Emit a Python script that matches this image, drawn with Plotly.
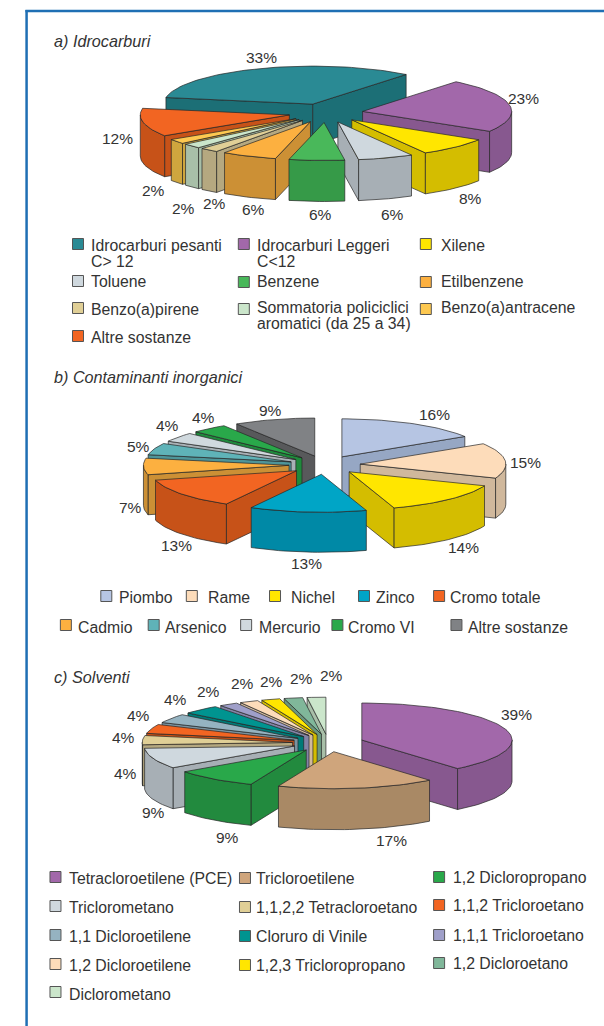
import math
import plotly.graph_objects as go

# ---- data ----
a_names = ["Idrocarburi pesanti<br>C> 12", "Idrocarburi Leggeri<br>C<12", "Xilene", "Toluene", "Benzene", "Etilbenzene",
           "Benzo(a)pirene", "Sommatoria policiclici<br>aromatici (da 25 a 34)", "Benzo(a)antracene", "Altre sostanze"]
a_values = [33, 23, 8, 6, 6, 6, 2, 2, 2, 12]
a_top = ["#2a8a94", "#a268aa", "#ffe600", "#cfd8de", "#49b85a", "#fcb040", "#e0cf96", "#cbe6cb", "#fdc850", "#f26522"]
a_side = ["#1c6f76", "#87588f", "#d4bd00", "#a7afb5", "#369a48", "#cc9035", "#b5a880", "#a8bfa8", "#cfa63e", "#c75218"]

b_names = ["Piombo", "Rame", "Nichel", "Zinco", "Cromo totale", "Cadmio", "Arsenico", "Mercurio", "Cromo VI", "Altre sostanze"]
b_values = [16, 15, 14, 13, 13, 7, 5, 4, 4, 9]
b_top = ["#b6c5e3", "#fddcba", "#ffe600", "#00a5c6", "#f26522", "#fcb040", "#5fb3b8", "#d0d9de", "#29a84a", "#808285"]
b_side = ["#96a7c4", "#d0b89c", "#d4bd00", "#0089a6", "#c75218", "#cc9035", "#4e9599", "#a9b1b6", "#1f8a3c", "#58595b"]

c_names = ["Tetracloroetilene (PCE)", "Tricloroetilene", "1,2 Dicloropropano", "Triclorometano", "1,1,2,2 Tetracloroetano",
           "1,1,2 Tricloroetano", "1,1 Dicloroetilene", "Cloruro di Vinile", "1,1,1 Tricloroetano", "1,2 Dicloroetilene",
           "1,2,3 Tricloropropano", "1,2 Dicloroetano", "Diclorometano"]
c_values = [39, 17, 9, 9, 4, 4, 4, 4, 2, 2, 2, 2, 2]
c_top = ["#a268aa", "#cfa57c", "#29a84a", "#cfd8de", "#e0cf96", "#f26522", "#95b3c1", "#009490", "#9f9fc9", "#fddcba",
         "#ffe600", "#80b79a", "#cbe6cb"]
c_side = ["#87588f", "#a98965", "#228a3e", "#a7afb5", "#b5a880", "#c75218", "#7a93a0", "#007a77", "#8383a6", "#d0b89c",
          "#d4bd00", "#6a977e", "#a8bfa8"]

# ---- layout of the three panels ----
PIES = [
    dict(values=a_values, top=a_top, side=a_side, cx=282, cy=113, rx=129, ry=38, depth=41, explode=.25, start=170),
    dict(values=b_values, top=b_top, side=b_side, cx=281, cy=465, rx=126, ry=38, depth=40, explode=.245, start=90),
    dict(values=c_values, top=c_top, side=c_side, cx=284, cy=743, rx=130, ry=37, depth=41, explode=.238, start=90),
]
a_label_xy = [(226, 57), (453, 98), (407, 198), (340, 214), (277, 214), (219, 209), (186, 203), (159, 208), (133, 190), (102, 138)]
b_label_xy = [(376, 414), (455, 462), (401, 547), (265, 563), (153, 545), (113, 507), (120, 446), (145, 425), (176, 417), (234, 410)]
c_label_xy = [(447, 714), (339, 840), (197, 837), (133, 812), (109, 773), (107, 737), (120, 715), (152, 699), (180, 691),
              (210, 683), (235, 681), (261, 678), (287, 675)]
# swatch x, swatch y, text x, text y of the first line
a_legend = [(67.5, 244, 79, 245), (211, 244, 223, 245), (368.5, 244, 382, 245), (67.5, 281, 79, 281), (211, 282, 223, 281),
            (368.5, 282, 382, 281), (67.5, 308, 79, 309), (211, 309, 223, 307), (368.5, 309, 382, 307), (67.5, 336, 79, 337)]
b_legend = [(92, 596, 103, 597), (166, 596, 180, 597), (238, 596, 252, 597), (315, 596, 326, 597), (380, 596, 390, 597),
            (57, 625, 68, 627), (133, 625, 143, 627), (213, 625, 224, 627), (292, 625, 301, 627), (395, 625, 405, 627)]
c_legend = [(48, 877, 60, 878), (212, 878, 222, 878), (380, 877, 392, 877), (48, 906, 60, 907), (212, 907, 222, 907),
            (380, 905, 392, 905), (48, 935, 60, 936), (212, 936, 222, 936), (380, 935, 392, 935), (48, 964, 60, 965),
            (212, 965, 222, 965), (380, 963, 392, 963), (48, 992, 60, 994)]
titles = [("a) Idrocarburi", 47, 41), ("b) Contaminanti inorganici", 47, 377), ("c) Solventi", 47, 677)]

FONT = "Liberation Sans"
INK = "#333333"
EDGE = "#262626"
X_SPAN = 522.7   # horizontal extent of the drawing units across the page

fig = go.Figure()


def face(xs, ys, color):
    fig.add_trace(go.Scatter(x=xs, y=ys, mode="lines", fill="toself", fillcolor=color,
                             line=dict(color=EDGE, width=0.7), hoverinfo="skip", showlegend=False))


def draw_pie(p):
    cx, cy, rx, ry, d, e = p["cx"], p["cy"], p["rx"], p["ry"], p["depth"], p["explode"]
    total = sum(p["values"])
    t = p["start"]
    slices = []
    for v, top, side in zip(p["values"], p["top"], p["side"]):
        sweep = 360 * v / total
        slices.append((t, t - sweep, top, side))
        t -= sweep

    def pt(ax, ay, ang):
        r = math.radians(ang)
        return ax + rx * math.cos(r), ay - ry * math.sin(r)

    def arc(ax, ay, t0, t1):
        n = max(2, int(abs(t0 - t1) / 2) + 1)
        return [pt(ax, ay, t0 + (t1 - t0) * i / n) for i in range(n + 1)]

    # paint from back to front
    for ts, te, top, side in sorted(slices, key=lambda s: -math.sin(math.radians((s[0] + s[1]) / 2))):
        mid = math.radians((ts + te) / 2)
        ax = cx + e * rx * math.cos(mid)
        ay = cy - e * ry * math.sin(mid)
        # radial walls, when they face the viewer
        for ang, visible in ((ts, math.cos(math.radians(ts)) < 0), (te, math.cos(math.radians(te)) > 0)):
            if visible:
                qx, qy = pt(ax, ay, ang)
                face([ax, qx, qx, ax, ax], [ay, qy, qy + d, ay + d, ay], side)
        # outer wall, front half only
        lo, hi = max(te, -180), min(ts, 0)
        if hi > lo:
            rim = arc(ax, ay, hi, lo)
            xs = [q[0] for q in rim] + [q[0] for q in reversed(rim)]
            ys = [q[1] for q in rim] + [q[1] + d for q in reversed(rim)]
            face(xs + xs[:1], ys + ys[:1], side)
        # top
        rim = arc(ax, ay, ts, te)
        face([ax] + [q[0] for q in rim] + [ax], [ay] + [q[1] for q in rim] + [ay], top)


for p in PIES:
    draw_pie(p)

ann = []


def text(s, x, y, anchor="left", size=15.8, italic=False):
    body = f"<i>{s}</i>" if italic else s
    ann.append(dict(text=body, x=x, y=y, xref="x", yref="y", xanchor=anchor, yanchor="middle", showarrow=False,
                    align="left", font=dict(family=FONT, size=size, color=INK)))


for values, xy in ((a_values, a_label_xy), (b_values, b_label_xy), (c_values, c_label_xy)):
    for v, (x, y) in zip(values, xy):
        text(f"{v}%", x, y, "center", size=15.5)

for names, tops, sides, leg in ((a_names, a_top, a_side, a_legend), (b_names, b_top, b_side, b_legend), (c_names, c_top, c_side, c_legend)):
    for name, col, sd, (sx, sy, tx, ty) in zip(names, tops, sides, leg):
        fig.add_trace(go.Scatter(x=[sx], y=[sy], mode="markers", hoverinfo="skip", showlegend=False,
                                 marker=dict(symbol="square", size=11, color=col, line=dict(color="#555555", width=1))))
        for i, line in enumerate(name.split("<br>")):
            text(line, tx - 2, ty + 16.5 * i)

for s, x, y in titles:
    text(s, x - 2, y, size=16.2, italic=True)

fig.update_layout(
    width=604, height=1026, autosize=False, margin=dict(l=0, r=0, t=0, b=0),
    paper_bgcolor="white", plot_bgcolor="white", annotations=ann,
    xaxis=dict(range=[0, X_SPAN], visible=False, fixedrange=True),
    yaxis=dict(range=[1026, 0], visible=False, fixedrange=True),
    shapes=[
        dict(type="line", x0=23, x1=23, y0=10, y1=1026, line=dict(color="#1f6fb4", width=2.5), layer="below"),
        dict(type="line", x0=22, x1=X_SPAN, y0=11, y1=11, line=dict(color="#1f6fb4", width=2.5), layer="below"),
    ],
)
fig.write_html("out.html", config={"displayModeBar": False},
               post_script="document.body.style.margin='0';document.documentElement.style.overflow='hidden';")
